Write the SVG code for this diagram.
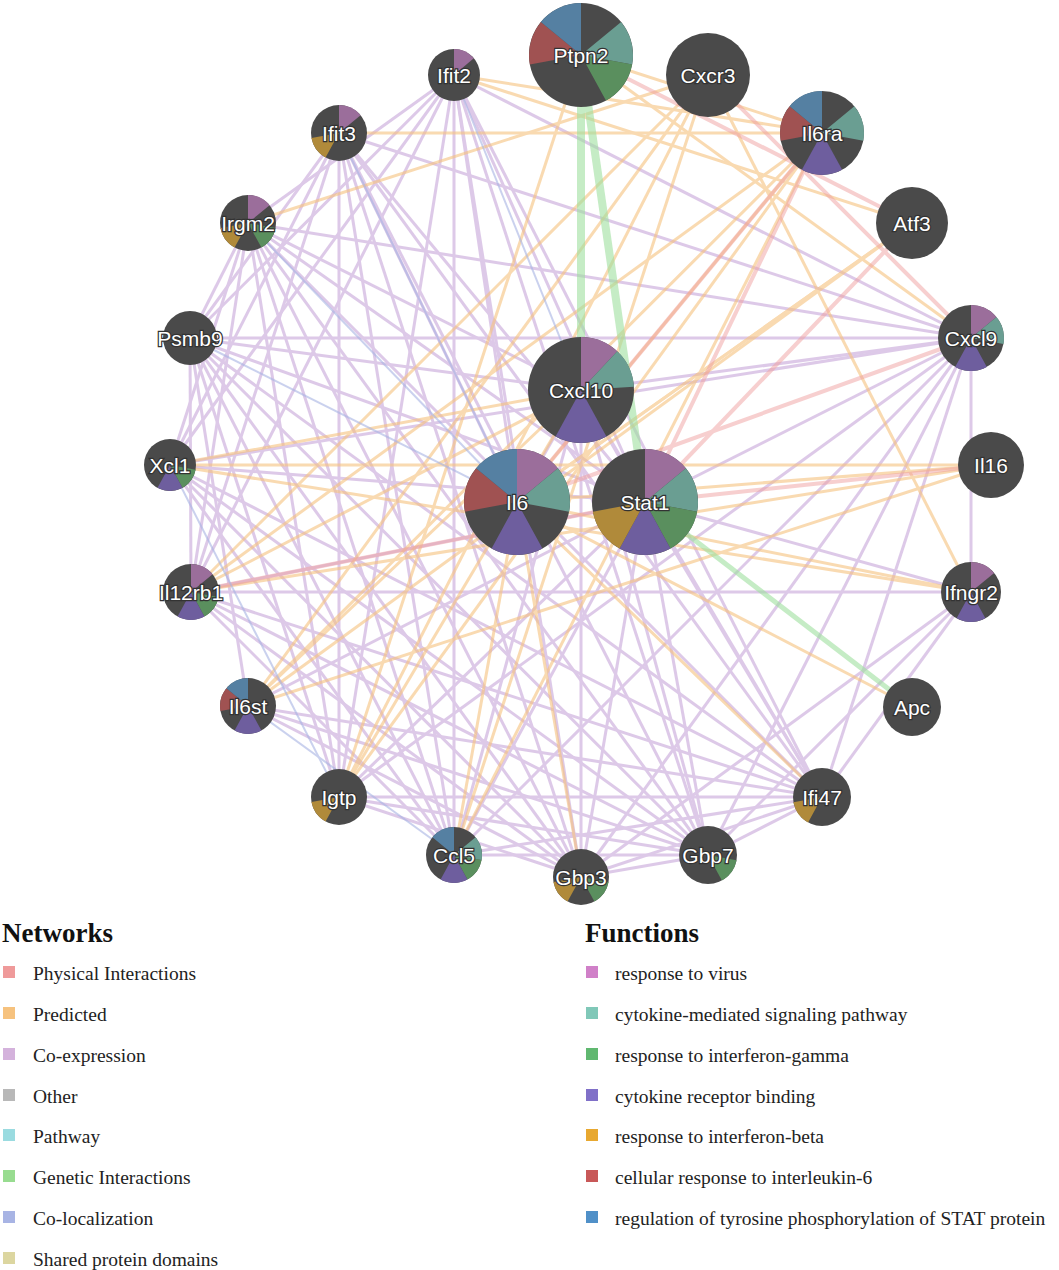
<svg xmlns="http://www.w3.org/2000/svg" width="1059" height="1270" viewBox="0 0 1059 1270">
<style>
.bg{fill:#fff}
.n{fill:#4a4a4a}
.lbl{font-family:"Liberation Sans",Arial,sans-serif;font-size:21px;fill:#fff;text-anchor:middle;dominant-baseline:central;stroke:#333;stroke-width:2.5px;paint-order:stroke}
.co{stroke:#c7a6d9;stroke-width:3;opacity:.6}
.pr{stroke:#f6c27e;stroke-width:3;opacity:.6}
.ph{stroke:#f0a0a0;stroke-width:4;opacity:.5}
.ge{stroke:#9fe09f;stroke-width:8;opacity:.6}
.cl{stroke:#a8b4e4;stroke-width:2;opacity:.6}
.s{fill:none}
.lt{font-family:"Liberation Serif","Times New Roman",serif;font-size:19.5px;fill:#222}
.lh{font-family:"Liberation Serif","Times New Roman",serif;font-size:27px;font-weight:bold;fill:#111}
</style>
<rect class="bg" width="1059" height="1270"/>
<g id="connectors">
<g class="co">
<line x1="454" y1="75" x2="517" y2="502"/><line x1="454" y1="75" x2="645" y2="502"/><line x1="454" y1="75" x2="581" y2="877"/><line x1="454" y1="75" x2="708" y2="855"/><line x1="454" y1="75" x2="822" y2="797"/><line x1="454" y1="75" x2="339" y2="797"/><line x1="454" y1="75" x2="248" y2="223"/><line x1="454" y1="75" x2="190" y2="338"/>
<line x1="339" y1="133" x2="645" y2="502"/><line x1="339" y1="133" x2="581" y2="877"/><line x1="339" y1="133" x2="708" y2="855"/><line x1="339" y1="133" x2="822" y2="797"/><line x1="339" y1="133" x2="339" y2="797"/><line x1="339" y1="133" x2="190" y2="338"/><line x1="339" y1="133" x2="454" y2="855"/><line x1="339" y1="133" x2="971" y2="338"/>
<line x1="248" y1="223" x2="645" y2="502"/><line x1="248" y1="223" x2="581" y2="877"/><line x1="248" y1="223" x2="708" y2="855"/><line x1="248" y1="223" x2="822" y2="797"/><line x1="248" y1="223" x2="339" y2="797"/><line x1="248" y1="223" x2="454" y2="855"/><line x1="248" y1="223" x2="190" y2="338"/><line x1="248" y1="223" x2="581" y2="390"/>
<line x1="190" y1="338" x2="645" y2="502"/><line x1="190" y1="338" x2="581" y2="877"/><line x1="190" y1="338" x2="708" y2="855"/><line x1="190" y1="338" x2="822" y2="797"/><line x1="190" y1="338" x2="339" y2="797"/><line x1="190" y1="338" x2="454" y2="855"/><line x1="190" y1="338" x2="971" y2="338"/><line x1="190" y1="338" x2="581" y2="390"/>
<line x1="170" y1="465" x2="581" y2="877"/><line x1="170" y1="465" x2="454" y2="855"/><line x1="170" y1="465" x2="971" y2="338"/><line x1="170" y1="465" x2="645" y2="502"/>
<line x1="191" y1="592" x2="581" y2="877"/><line x1="191" y1="592" x2="645" y2="502"/><line x1="191" y1="592" x2="822" y2="797"/><line x1="191" y1="592" x2="971" y2="592"/>
<line x1="248" y1="706" x2="581" y2="877"/><line x1="248" y1="706" x2="645" y2="502"/><line x1="248" y1="706" x2="708" y2="855"/>
<line x1="339" y1="797" x2="581" y2="877"/><line x1="339" y1="797" x2="708" y2="855"/><line x1="339" y1="797" x2="822" y2="797"/><line x1="339" y1="797" x2="645" y2="502"/><line x1="339" y1="797" x2="971" y2="338"/>
<line x1="454" y1="855" x2="708" y2="855"/><line x1="454" y1="855" x2="822" y2="797"/><line x1="454" y1="855" x2="645" y2="502"/><line x1="454" y1="855" x2="971" y2="338"/><line x1="454" y1="855" x2="581" y2="390"/>
<line x1="581" y1="877" x2="708" y2="855"/><line x1="581" y1="877" x2="822" y2="797"/><line x1="581" y1="877" x2="645" y2="502"/><line x1="581" y1="877" x2="971" y2="338"/><line x1="581" y1="877" x2="581" y2="390"/>
<line x1="708" y1="855" x2="822" y2="797"/><line x1="708" y1="855" x2="645" y2="502"/><line x1="708" y1="855" x2="971" y2="338"/><line x1="708" y1="855" x2="581" y2="390"/>
<line x1="822" y1="797" x2="645" y2="502"/><line x1="822" y1="797" x2="971" y2="338"/><line x1="822" y1="797" x2="581" y2="390"/><line x1="822" y1="797" x2="971" y2="592"/>
<line x1="971" y1="338" x2="581" y2="390"/><line x1="971" y1="338" x2="645" y2="502"/><line x1="971" y1="592" x2="645" y2="502"/>
<line x1="454" y1="75" x2="971" y2="338"/><line x1="454" y1="75" x2="191" y2="592"/>
<line x1="454" y1="75" x2="170" y2="465"/><line x1="339" y1="133" x2="170" y2="465"/><line x1="339" y1="133" x2="191" y2="592"/><line x1="248" y1="223" x2="170" y2="465"/><line x1="248" y1="223" x2="191" y2="592"/><line x1="248" y1="223" x2="971" y2="338"/><line x1="190" y1="338" x2="191" y2="592"/><line x1="190" y1="338" x2="248" y2="706"/><line x1="170" y1="465" x2="708" y2="855"/><line x1="170" y1="465" x2="822" y2="797"/><line x1="191" y1="592" x2="708" y2="855"/><line x1="191" y1="592" x2="454" y2="855"/><line x1="248" y1="706" x2="822" y2="797"/><line x1="454" y1="75" x2="454" y2="855"/><line x1="339" y1="133" x2="517" y2="502"/><line x1="581" y1="390" x2="645" y2="502"/><line x1="581" y1="390" x2="517" y2="502"/><line x1="971" y1="592" x2="581" y2="877"/><line x1="971" y1="592" x2="708" y2="855"/><line x1="971" y1="338" x2="971" y2="592"/>
</g>
<g class="pr">
<line x1="581" y1="55" x2="822" y2="133"/><line x1="581" y1="55" x2="971" y2="338"/><line x1="708" y1="75" x2="248" y2="706"/><line x1="708" y1="75" x2="191" y2="592"/><line x1="708" y1="75" x2="454" y2="855"/><line x1="822" y1="133" x2="248" y2="706"/><line x1="822" y1="133" x2="517" y2="502"/><line x1="822" y1="133" x2="339" y2="797"/><line x1="822" y1="133" x2="191" y2="592"/>
<line x1="912" y1="223" x2="248" y2="706"/><line x1="912" y1="223" x2="517" y2="502"/><line x1="991" y1="465" x2="191" y2="592"/><line x1="991" y1="465" x2="517" y2="502"/><line x1="991" y1="465" x2="248" y2="706"/><line x1="971" y1="592" x2="170" y2="465"/><line x1="971" y1="592" x2="517" y2="502"/>
<line x1="170" y1="465" x2="581" y2="390"/><line x1="170" y1="465" x2="991" y2="465"/><line x1="191" y1="592" x2="581" y2="390"/><line x1="248" y1="706" x2="581" y2="390"/><line x1="339" y1="797" x2="581" y2="390"/><line x1="454" y1="855" x2="517" y2="502"/><line x1="581" y1="877" x2="517" y2="502"/>
<line x1="339" y1="133" x2="822" y2="133"/><line x1="248" y1="223" x2="708" y2="75"/><line x1="912" y1="223" x2="517" y2="502"/><line x1="912" y1="707" x2="517" y2="502"/><line x1="822" y1="797" x2="517" y2="502"/><line x1="454" y1="75" x2="822" y2="133"/>
<line x1="708" y1="75" x2="339" y2="797"/><line x1="822" y1="133" x2="454" y2="855"/><line x1="581" y1="55" x2="339" y2="797"/><line x1="708" y1="75" x2="971" y2="592"/><line x1="454" y1="75" x2="912" y2="223"/>
</g>
<g class="ph">
<line x1="822" y1="133" x2="517" y2="502"/><line x1="822" y1="133" x2="645" y2="502"/><line x1="912" y1="223" x2="645" y2="502"/><line x1="581" y1="55" x2="912" y2="223"/><line x1="991" y1="465" x2="645" y2="502"/><line x1="971" y1="338" x2="517" y2="502"/><line x1="708" y1="75" x2="971" y2="338"/><line x1="191" y1="592" x2="645" y2="502"/>
</g>
<g class="ge">
<line x1="581" y1="55" x2="581" y2="390"/><line x1="581" y1="55" x2="645" y2="502"/><line x1="645" y1="502" x2="912" y2="707" style="stroke-width:5"/>
</g>
<g class="cl">
<line x1="339" y1="133" x2="517" y2="502"/><line x1="248" y1="223" x2="517" y2="502"/><line x1="190" y1="338" x2="517" y2="502"/><line x1="248" y1="706" x2="454" y2="855"/><line x1="170" y1="465" x2="339" y2="797"/><line x1="454" y1="75" x2="581" y2="390"/>
</g>
</g>
<g id="Ptpn2"><circle class="n" cx="581" cy="55" r="52"/>
<g class="s" transform="rotate(-90 581 55)" stroke-width="52"><circle cx="581" cy="55" r="26" pathLength="100" stroke="#6a9e92" stroke-dasharray="14 86" stroke-dashoffset="-14"/><circle cx="581" cy="55" r="26" pathLength="100" stroke="#5a8f5e" stroke-dasharray="14 86" stroke-dashoffset="-28"/><circle cx="581" cy="55" r="26" pathLength="100" stroke="#a05252" stroke-dasharray="14 86" stroke-dashoffset="-72"/><circle cx="581" cy="55" r="26" pathLength="100" stroke="#5580a2" stroke-dasharray="14 86" stroke-dashoffset="-86"/></g>
<text class="lbl" x="581" y="55">Ptpn2</text></g>
<g id="Cxcr3"><circle class="n" cx="708" cy="75" r="42"/><text class="lbl" x="708" y="75">Cxcr3</text></g>
<g id="Il6ra"><circle class="n" cx="822" cy="133" r="42"/>
<g class="s" transform="rotate(-90 822 133)" stroke-width="42"><circle cx="822" cy="133" r="21" pathLength="100" stroke="#6a9e92" stroke-dasharray="14 86" stroke-dashoffset="-14"/><circle cx="822" cy="133" r="21" pathLength="100" stroke="#6e5e9e" stroke-dasharray="16 84" stroke-dashoffset="-42"/><circle cx="822" cy="133" r="21" pathLength="100" stroke="#a05252" stroke-dasharray="14 86" stroke-dashoffset="-72"/><circle cx="822" cy="133" r="21" pathLength="100" stroke="#5580a2" stroke-dasharray="14 86" stroke-dashoffset="-86"/></g>
<text class="lbl" x="822" y="133">Il6ra</text></g>
<g id="Atf3"><circle class="n" cx="912" cy="223" r="36"/><text class="lbl" x="912" y="223">Atf3</text></g>
<g id="Cxcl9"><circle class="n" cx="971" cy="338" r="33"/>
<g class="s" transform="rotate(-90 971 338)" stroke-width="33"><circle cx="971" cy="338" r="16.5" pathLength="100" stroke="#9b6e9b" stroke-dasharray="14 86" stroke-dashoffset="100"/><circle cx="971" cy="338" r="16.5" pathLength="100" stroke="#6a9e92" stroke-dasharray="14 86" stroke-dashoffset="-14"/><circle cx="971" cy="338" r="16.5" pathLength="100" stroke="#6e5e9e" stroke-dasharray="16 84" stroke-dashoffset="-42"/></g>
<text class="lbl" x="971" y="338">Cxcl9</text></g>
<g id="Il16"><circle class="n" cx="991" cy="465" r="33"/><text class="lbl" x="991" y="465">Il16</text></g>
<g id="Ifngr2"><circle class="n" cx="971" cy="592" r="30"/>
<g class="s" transform="rotate(-90 971 592)" stroke-width="30"><circle cx="971" cy="592" r="15" pathLength="100" stroke="#9b6e9b" stroke-dasharray="14 86" stroke-dashoffset="100"/><circle cx="971" cy="592" r="15" pathLength="100" stroke="#6e5e9e" stroke-dasharray="16 84" stroke-dashoffset="-42"/></g>
<text class="lbl" x="971" y="592">Ifngr2</text></g>
<g id="Apc"><circle class="n" cx="912" cy="707" r="29"/><text class="lbl" x="912" y="707">Apc</text></g>
<g id="Ifi47"><circle class="n" cx="822" cy="797" r="29"/>
<g class="s" transform="rotate(-90 822 797)" stroke-width="29"><circle cx="822" cy="797" r="14.5" pathLength="100" stroke="#b08a3a" stroke-dasharray="14 86" stroke-dashoffset="-58"/></g>
<text class="lbl" x="822" y="797">Ifi47</text></g>
<g id="Gbp7"><circle class="n" cx="708" cy="855" r="29"/>
<g class="s" transform="rotate(-90 708 855)" stroke-width="29"><circle cx="708" cy="855" r="14.5" pathLength="100" stroke="#5a8f5e" stroke-dasharray="14 86" stroke-dashoffset="-28"/></g>
<text class="lbl" x="708" y="855">Gbp7</text></g>
<g id="Gbp3"><circle class="n" cx="581" cy="877" r="28"/>
<g class="s" transform="rotate(-90 581 877)" stroke-width="28"><circle cx="581" cy="877" r="14" pathLength="100" stroke="#5a8f5e" stroke-dasharray="14 86" stroke-dashoffset="-28"/><circle cx="581" cy="877" r="14" pathLength="100" stroke="#b08a3a" stroke-dasharray="14 86" stroke-dashoffset="-58"/></g>
<text class="lbl" x="581" y="877">Gbp3</text></g>
<g id="Ccl5"><circle class="n" cx="454" cy="855" r="28"/>
<g class="s" transform="rotate(-90 454 855)" stroke-width="28"><circle cx="454" cy="855" r="14" pathLength="100" stroke="#5a8f5e" stroke-dasharray="14 86" stroke-dashoffset="-28"/><circle cx="454" cy="855" r="14" pathLength="100" stroke="#6e5e9e" stroke-dasharray="16 84" stroke-dashoffset="-42"/><circle cx="454" cy="855" r="14" pathLength="100" stroke="#6a9e92" stroke-dasharray="14 86" stroke-dashoffset="-14"/><circle cx="454" cy="855" r="14" pathLength="100" stroke="#5580a2" stroke-dasharray="14 86" stroke-dashoffset="-86"/></g>
<text class="lbl" x="454" y="855">Ccl5</text></g>
<g id="Igtp"><circle class="n" cx="339" cy="797" r="28"/>
<g class="s" transform="rotate(-90 339 797)" stroke-width="28"><circle cx="339" cy="797" r="14" pathLength="100" stroke="#b08a3a" stroke-dasharray="14 86" stroke-dashoffset="-58"/></g>
<text class="lbl" x="339" y="797">Igtp</text></g>
<g id="Il6st"><circle class="n" cx="248" cy="706" r="28"/>
<g class="s" transform="rotate(-90 248 706)" stroke-width="28"><circle cx="248" cy="706" r="14" pathLength="100" stroke="#6e5e9e" stroke-dasharray="16 84" stroke-dashoffset="-42"/><circle cx="248" cy="706" r="14" pathLength="100" stroke="#a05252" stroke-dasharray="14 86" stroke-dashoffset="-72"/><circle cx="248" cy="706" r="14" pathLength="100" stroke="#5580a2" stroke-dasharray="14 86" stroke-dashoffset="-86"/></g>
<text class="lbl" x="248" y="706">Il6st</text></g>
<g id="Il12rb1"><circle class="n" cx="191" cy="592" r="28"/>
<g class="s" transform="rotate(-90 191 592)" stroke-width="28"><circle cx="191" cy="592" r="14" pathLength="100" stroke="#9b6e9b" stroke-dasharray="14 86" stroke-dashoffset="100"/><circle cx="191" cy="592" r="14" pathLength="100" stroke="#5a8f5e" stroke-dasharray="14 86" stroke-dashoffset="-28"/><circle cx="191" cy="592" r="14" pathLength="100" stroke="#6e5e9e" stroke-dasharray="16 84" stroke-dashoffset="-42"/></g>
<text class="lbl" x="191" y="592">Il12rb1</text></g>
<g id="Xcl1"><circle class="n" cx="170" cy="465" r="26"/>
<g class="s" transform="rotate(-90 170 465)" stroke-width="26"><circle cx="170" cy="465" r="13" pathLength="100" stroke="#5a8f5e" stroke-dasharray="14 86" stroke-dashoffset="-28"/><circle cx="170" cy="465" r="13" pathLength="100" stroke="#6e5e9e" stroke-dasharray="16 84" stroke-dashoffset="-42"/></g>
<text class="lbl" x="170" y="465">Xcl1</text></g>
<g id="Psmb9"><circle class="n" cx="190" cy="338" r="27"/><text class="lbl" x="190" y="338">Psmb9</text></g>
<g id="Irgm2"><circle class="n" cx="248" cy="223" r="28"/>
<g class="s" transform="rotate(-90 248 223)" stroke-width="28"><circle cx="248" cy="223" r="14" pathLength="100" stroke="#9b6e9b" stroke-dasharray="14 86" stroke-dashoffset="100"/><circle cx="248" cy="223" r="14" pathLength="100" stroke="#5a8f5e" stroke-dasharray="14 86" stroke-dashoffset="-28"/><circle cx="248" cy="223" r="14" pathLength="100" stroke="#b08a3a" stroke-dasharray="14 86" stroke-dashoffset="-58"/></g>
<text class="lbl" x="248" y="223">Irgm2</text></g>
<g id="Ifit3"><circle class="n" cx="339" cy="133" r="28"/>
<g class="s" transform="rotate(-90 339 133)" stroke-width="28"><circle cx="339" cy="133" r="14" pathLength="100" stroke="#9b6e9b" stroke-dasharray="14 86" stroke-dashoffset="100"/><circle cx="339" cy="133" r="14" pathLength="100" stroke="#b08a3a" stroke-dasharray="14 86" stroke-dashoffset="-58"/></g>
<text class="lbl" x="339" y="133">Ifit3</text></g>
<g id="Ifit2"><circle class="n" cx="454" cy="75" r="26"/>
<path d="M454 75 L454 49 A26 26 0 0 1 473.8 58.2 Z" fill="#9b6e9b"/>
<text class="lbl" x="454" y="75">Ifit2</text></g>
<g id="Cxcl10"><circle class="n" cx="581" cy="390" r="53"/>
<g class="s" transform="rotate(-90 581 390)" stroke-width="53"><circle cx="581" cy="390" r="26.5" pathLength="100" stroke="#9b6e9b" stroke-dasharray="12 88" stroke-dashoffset="100"/><circle cx="581" cy="390" r="26.5" pathLength="100" stroke="#6a9e92" stroke-dasharray="12 88" stroke-dashoffset="-12"/><circle cx="581" cy="390" r="26.5" pathLength="100" stroke="#6e5e9e" stroke-dasharray="16 84" stroke-dashoffset="-42"/></g>
<text class="lbl" x="581" y="390">Cxcl10</text></g>
<g id="Il6"><circle class="n" cx="517" cy="502" r="53"/>
<g class="s" transform="rotate(-90 517 502)" stroke-width="53"><circle cx="517" cy="502" r="26.5" pathLength="100" stroke="#9b6e9b" stroke-dasharray="14 86" stroke-dashoffset="100"/><circle cx="517" cy="502" r="26.5" pathLength="100" stroke="#6a9e92" stroke-dasharray="14 86" stroke-dashoffset="-14"/><circle cx="517" cy="502" r="26.5" pathLength="100" stroke="#6e5e9e" stroke-dasharray="16 84" stroke-dashoffset="-42"/><circle cx="517" cy="502" r="26.5" pathLength="100" stroke="#a05252" stroke-dasharray="14 86" stroke-dashoffset="-72"/><circle cx="517" cy="502" r="26.5" pathLength="100" stroke="#5580a2" stroke-dasharray="14 86" stroke-dashoffset="-86"/></g>
<text class="lbl" x="517" y="502">Il6</text></g>
<g id="Stat1"><circle class="n" cx="645" cy="502" r="53"/>
<g class="s" transform="rotate(-90 645 502)" stroke-width="53"><circle cx="645" cy="502" r="26.5" pathLength="100" stroke="#9b6e9b" stroke-dasharray="14 86" stroke-dashoffset="100"/><circle cx="645" cy="502" r="26.5" pathLength="100" stroke="#6a9e92" stroke-dasharray="14 86" stroke-dashoffset="-14"/><circle cx="645" cy="502" r="26.5" pathLength="100" stroke="#5a8f5e" stroke-dasharray="14 86" stroke-dashoffset="-28"/><circle cx="645" cy="502" r="26.5" pathLength="100" stroke="#6e5e9e" stroke-dasharray="16 84" stroke-dashoffset="-42"/><circle cx="645" cy="502" r="26.5" pathLength="100" stroke="#b08a3a" stroke-dasharray="14 86" stroke-dashoffset="-58"/></g>
<text class="lbl" x="645" y="502">Stat1</text></g>
<g id="legend-networks">
<text class="lh" x="2" y="942">Networks</text>
<rect x="3" y="966" width="12" height="12" fill="#ef9a9a"/><text class="lt" x="33" y="980">Physical Interactions</text>
<rect x="3" y="1007" width="12" height="12" fill="#f6c27e"/><text class="lt" x="33" y="1021">Predicted</text>
<rect x="3" y="1048" width="12" height="12" fill="#d4b2dc"/><text class="lt" x="33" y="1062">Co-expression</text>
<rect x="3" y="1089" width="12" height="12" fill="#b8b8b8"/><text class="lt" x="33" y="1103">Other</text>
<rect x="3" y="1129" width="12" height="12" fill="#9adbe0"/><text class="lt" x="33" y="1143">Pathway</text>
<rect x="3" y="1170" width="12" height="12" fill="#98dc90"/><text class="lt" x="33" y="1184">Genetic Interactions</text>
<rect x="3" y="1211" width="12" height="12" fill="#a8b4e4"/><text class="lt" x="33" y="1225">Co-localization</text>
<rect x="3" y="1252" width="12" height="12" fill="#dcd6a0"/><text class="lt" x="33" y="1266">Shared protein domains</text>
</g>
<g id="legend-functions">
<text class="lh" x="585" y="942">Functions</text>
<rect x="586" y="966" width="12" height="12" fill="#d080c8"/><text class="lt" x="615" y="980">response to virus</text>
<rect x="586" y="1007" width="12" height="12" fill="#80c8b8"/><text class="lt" x="615" y="1021">cytokine-mediated signaling pathway</text>
<rect x="586" y="1048" width="12" height="12" fill="#60b870"/><text class="lt" x="615" y="1062">response to interferon-gamma</text>
<rect x="586" y="1089" width="12" height="12" fill="#8070c8"/><text class="lt" x="615" y="1103">cytokine receptor binding</text>
<rect x="586" y="1129" width="12" height="12" fill="#e8a830"/><text class="lt" x="615" y="1143">response to interferon-beta</text>
<rect x="586" y="1170" width="12" height="12" fill="#c85858"/><text class="lt" x="615" y="1184">cellular response to interleukin-6</text>
<rect x="586" y="1211" width="12" height="12" fill="#5090c8"/><text class="lt" x="615" y="1225">regulation of tyrosine phosphorylation of STAT protein</text>
</g>
</svg>
